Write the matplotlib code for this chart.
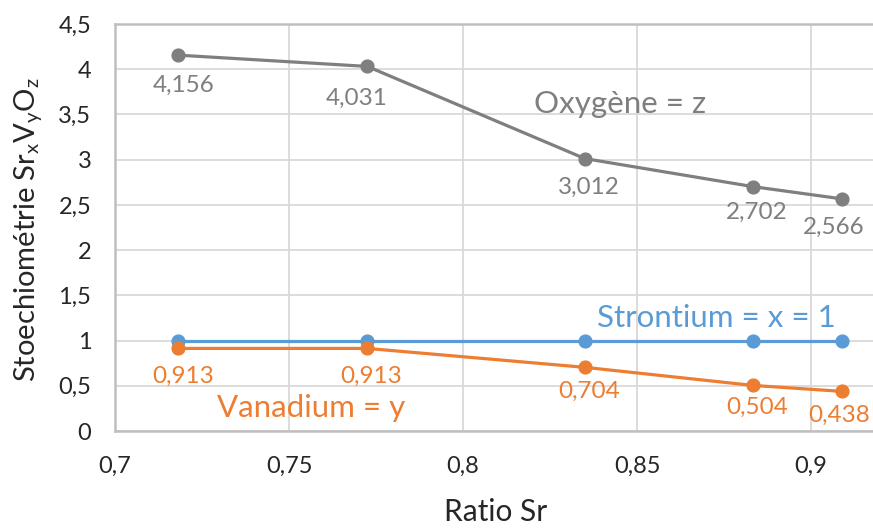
import matplotlib
matplotlib.use("Agg")
import matplotlib.pyplot as plt
from matplotlib.ticker import FuncFormatter

ratio_sr = [0.718, 0.7725, 0.835, 0.8833, 0.909]
oxygene = [4.156, 4.031, 3.012, 2.702, 2.566]
strontium = [1, 1, 1, 1, 1]
vanadium = [0.913, 0.913, 0.704, 0.504, 0.438]

x_ticks = [0.7, 0.75, 0.8, 0.85, 0.9]
y_ticks = [0, 0.5, 1, 1.5, 2, 2.5, 3, 3.5, 4, 4.5]

GRAY = "#7F7F7F"
BLUE = "#5B9BD5"
ORANGE = "#ED7D31"
TXT = "#262626"
plt.rcParams['font.family'] = ['Lato', 'DejaVu Sans']
plt.rcParams['mathtext.fontset'] = 'custom'
plt.rcParams['mathtext.rm'] = 'Lato'

W, H = 873, 528
fig = plt.figure(figsize=(W / 100, H / 100), dpi=100)
L, R, T, B = 115, 873, 24, 431
ax = fig.add_axes([L / W, 1 - B / H, (R - L) / W, (B - T) / H])

def fr(v, d=None):
    s = ("%g" % v) if d is None else (("%." + str(d) + "f") % v)
    return s.replace(".", ",")

PX = 0.72  # points per pixel
ax.plot(ratio_sr, oxygene, color=GRAY, lw=2.3, marker='o', ms=9.2, zorder=3)
ax.plot(ratio_sr, strontium, color=BLUE, lw=2.3, marker='o', ms=9.2, zorder=3)
ax.plot(ratio_sr, vanadium, color=ORANGE, lw=2.3, marker='o', ms=9.2, zorder=4)

# label offsets (pixels) relative to the point
gray_off = [(6, 20), (-11, 21), (4, 18), (4, 15), (-9, 18)]
orng_off = [(5, 17), (4, 17), (4, 14), (4, 11), (-3, 13)]
for (xv, yv), (dx, dy) in zip(zip(ratio_sr, oxygene), gray_off):
    ax.annotate(fr(yv, 3), (xv, yv), xytext=(dx * PX, -dy * PX), textcoords='offset points',
                ha='center', va='top', color=GRAY, fontsize=17.5)
for (xv, yv), (dx, dy) in zip(zip(ratio_sr, vanadium), orng_off):
    ax.annotate(fr(yv, 3), (xv, yv), xytext=(dx * PX, -dy * PX), textcoords='offset points',
                ha='center', va='top', color=ORANGE, fontsize=17.5)

ax.text(0.8451, 3.52, "Oxygène = z", color=GRAY, fontsize=22.5, ha='center', va='baseline')
ax.text(0.8728, 1.15, "Strontium = x = 1", color=BLUE, fontsize=22.5, ha='center', va='baseline')
ax.text(0.7565, 0.155, "Vanadium = y", color=ORANGE, fontsize=22.5, ha='center', va='baseline')

ax.set_xlim(0.7, 0.7 + (R - L) / 3480)
ax.set_ylim(0, 4.5)
ax.set_xticks(x_ticks)
ax.set_yticks(y_ticks)
ax.xaxis.set_major_formatter(FuncFormatter(lambda v, p: fr(v)))
ax.yaxis.set_major_formatter(FuncFormatter(lambda v, p: fr(v)))
ax.tick_params(length=0, labelsize=17, colors=TXT)
ax.tick_params(axis='x', pad=18)
ax.tick_params(axis='y', pad=17)
ax.grid(True, color="#D9D9D9", lw=1.3)
ax.set_axisbelow(True)
for s in ax.spines.values():
    s.set_color("#BFBFBF")
    s.set_linewidth(1.8)
ax.spines['right'].set_visible(False)

fig.text(496 / W, 1 - 521 / H, "Ratio Sr", fontsize=21.5, color=TXT, ha='center', va='baseline')
fig.text(28 / W, 1 - 230 / H,
         r"Stoechiométrie Sr$\mathregular{_x}$V$\mathregular{_y}$O$\mathregular{_z}$",
         fontsize=21, color=TXT, ha='center', va='center', rotation=90)

fig.savefig("out.png", dpi=100)
